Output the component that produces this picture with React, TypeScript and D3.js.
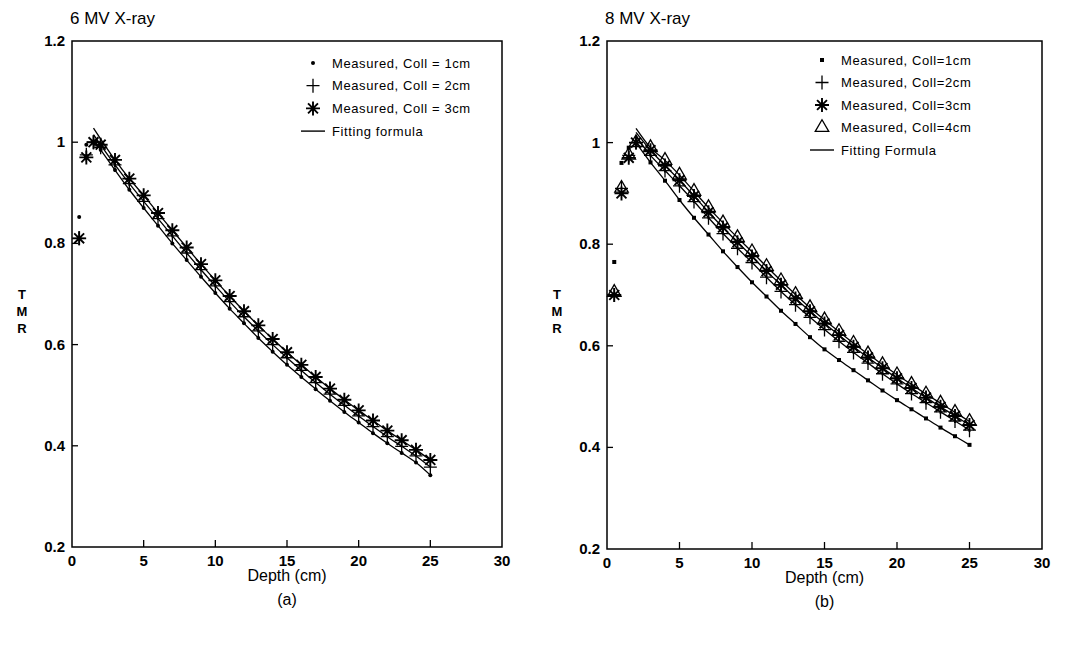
import React from 'react';
import * as d3 from 'd3';

// ---------- data ----------
const depths = [0.5, 1, 1.5, 2, 3, 4, 5, 6, 7, 8, 9, 10, 11, 12, 13, 14, 15, 16, 17, 18, 19, 20, 21, 22, 23, 24, 25];
const fitDepths6 = [1.5, 3, 4, 5, 6, 7, 8, 9, 10, 11, 12, 13, 14, 15, 16, 17, 18, 19, 20, 21, 22, 23, 24, 25];
const fitDepths8 = [2, 3, 4, 5, 6, 7, 8, 9, 10, 11, 12, 13, 14, 15, 16, 17, 18, 19, 20, 21, 22, 23, 24, 25];

const xTicks = [0, 5, 10, 15, 20, 25, 30];
const xTickLabels = ['0', '5', '10', '15', '20', '25', '30'];
const yTicks = [0.2, 0.4, 0.6, 0.8, 1, 1.2];
const yTickLabels = ['0.2', '0.4', '0.6', '0.8', '1', '1.2'];

// 6 MV
const mv6_coll1 = [0.852, 0.995, 1.0, 0.985, 0.945, 0.906, 0.87, 0.835, 0.8, 0.767, 0.734, 0.702, 0.671, 0.642, 0.613, 0.586, 0.56, 0.536, 0.512, 0.489, 0.467, 0.446, 0.425, 0.405, 0.386, 0.367, 0.342];
const mv6_coll2 = [0.81, 0.975, 1.0, 0.99, 0.955, 0.918, 0.883, 0.849, 0.815, 0.781, 0.748, 0.716, 0.685, 0.655, 0.627, 0.6, 0.574, 0.549, 0.525, 0.502, 0.48, 0.459, 0.438, 0.418, 0.399, 0.38, 0.358];
const mv6_coll3 = [0.81, 0.97, 1.0, 0.995, 0.965, 0.928, 0.895, 0.86, 0.826, 0.792, 0.759, 0.727, 0.696, 0.666, 0.638, 0.611, 0.585, 0.56, 0.536, 0.513, 0.491, 0.47, 0.45, 0.43, 0.411, 0.392, 0.372];
const mv6_fitStart = [1.005, 1.015, 1.028];

// 8 MV
const mv8_coll1 = [0.765, 0.96, 0.99, 1.0, 0.961, 0.925, 0.887, 0.852, 0.819, 0.786, 0.755, 0.725, 0.697, 0.669, 0.643, 0.617, 0.593, 0.572, 0.552, 0.532, 0.512, 0.493, 0.475, 0.457, 0.439, 0.422, 0.405];
const mv8_coll2 = [0.7, 0.91, 0.975, 1.0, 0.975, 0.945, 0.915, 0.884, 0.852, 0.821, 0.792, 0.764, 0.735, 0.707, 0.681, 0.656, 0.632, 0.609, 0.587, 0.566, 0.545, 0.525, 0.506, 0.488, 0.47, 0.452, 0.434];
const mv8_coll3 = [0.7, 0.9, 0.97, 1.0, 0.985, 0.955, 0.926, 0.895, 0.863, 0.833, 0.804, 0.776, 0.747, 0.72, 0.693, 0.668, 0.644, 0.621, 0.598, 0.577, 0.556, 0.536, 0.517, 0.498, 0.48, 0.462, 0.444];
const mv8_coll4 = [0.705, 0.91, 0.975, 1.0, 0.99, 0.965, 0.936, 0.904, 0.872, 0.842, 0.813, 0.785, 0.756, 0.728, 0.701, 0.675, 0.651, 0.628, 0.605, 0.584, 0.563, 0.543, 0.524, 0.505, 0.487, 0.469, 0.451];
const mv8_fitStart = [1.0, 1.012, 1.02, 1.028];

const legendA = ['Measured, Coll = 1cm', 'Measured, Coll = 2cm', 'Measured, Coll = 3cm', 'Fitting formula'];
const legendB = ['Measured, Coll=1cm', 'Measured, Coll=2cm', 'Measured, Coll=3cm', 'Measured, Coll=4cm', 'Fitting Formula'];

const FONT = "'Liberation Sans', Arial, Helvetica, sans-serif";

type MarkerType = 'dot' | 'square' | 'plus' | 'star' | 'triangle' | 'line';

function Marker({ type, x, y }: { type: MarkerType; x: number; y: number }) {
  if (type === 'dot') return <circle cx={x} cy={y} r={2} fill="#000" />;
  if (type === 'square') return <rect x={x - 2} y={y - 2} width={4} height={4} fill="#000" />;
  if (type === 'plus')
    return <path d={`M${x - 6.5},${y}H${x + 6.5}M${x},${y - 7}V${y + 7}`} stroke="#000" strokeWidth={1.3} fill="none" />;
  if (type === 'star') {
    const r = 7;
    const parts: string[] = [];
    for (let k = 0; k < 4; k++) {
      const a = (k * Math.PI) / 4;
      parts.push(`M${x - r * Math.cos(a)},${y - r * Math.sin(a)}L${x + r * Math.cos(a)},${y + r * Math.sin(a)}`);
    }
    return <path d={parts.join('')} stroke="#000" strokeWidth={1.9} fill="none" />;
  }
  if (type === 'triangle') {
    const s = 13.5;
    const h = (s * Math.sqrt(3)) / 2;
    return (
      <path
        d={`M${x},${y - (2 * h) / 3}L${x + s / 2},${y + h / 3}L${x - s / 2},${y + h / 3}Z`}
        stroke="#000"
        strokeWidth={1.3}
        fill="none"
      />
    );
  }
  return <line x1={x - 12} x2={x + 12} y1={y} y2={y} stroke="#000" strokeWidth={1.4} />;
}

interface Series {
  type: MarkerType;
  values: number[];
}

interface PanelProps {
  x0: number;
  x1: number;
  yTop: number;
  yBot: number;
  title: string;
  caption: string;
  series: Series[];
  fitDepths: number[];
  fitStart: number[];
  legend: string[];
  legendTypes: MarkerType[];
  legendX: number;
  legendY: number;
  legendDy: number;
}

function Panel(p: PanelProps) {
  const x = d3.scaleLinear().domain([0, 30]).range([p.x0, p.x1]);
  const y = d3.scaleLinear().domain([0.2, 1.2]).range([p.yBot, p.yTop]);
  const line = d3
    .line<[number, number]>()
    .x((d) => x(d[0]))
    .y((d) => y(d[1]))
    .curve(d3.curveMonotoneX);
  const cx = (p.x0 + p.x1) / 2;
  return (
    <g>
      <text x={p.x0 - 2} y={24} fontFamily={FONT} fontSize={17}>
        {p.title}
      </text>
      <rect x={p.x0} y={p.yTop} width={p.x1 - p.x0} height={p.yBot - p.yTop} fill="none" stroke="#000" strokeWidth={1.5} />
      {yTicks.map((t, i) => (
        <g key={'y' + i}>
          {i > 0 && i < yTicks.length - 1 && (
            <line x1={p.x0} x2={p.x0 + 6} y1={y(t)} y2={y(t)} stroke="#000" strokeWidth={1.3} />
          )}
          <text
            x={p.x0 - 7}
            y={y(t) + 5}
            textAnchor="end"
            fontFamily={FONT}
            fontSize={15}
            fontWeight="bold"
          >
            {yTickLabels[i]}
          </text>
        </g>
      ))}
      {xTicks.map((t, i) => (
        <g key={'x' + i}>
          {i > 0 && i < xTicks.length - 1 && (
            <line x1={x(t)} x2={x(t)} y1={p.yBot} y2={p.yBot - 7} stroke="#000" strokeWidth={1.3} />
          )}
          <text x={x(t)} y={p.yBot + 19} textAnchor="middle" fontFamily={FONT} fontSize={15} fontWeight="bold">
            {xTickLabels[i]}
          </text>
        </g>
      ))}
      {['T', 'M', 'R'].map((c, i) => (
        <text
          key={c}
          x={p.x0 - 50}
          y={299 + i * 17}
          textAnchor="middle"
          fontFamily={FONT}
          fontSize={13}
          fontWeight="bold"
        >
          {c}
        </text>
      ))}
      <text x={cx} y={p.yBot + 34} textAnchor="middle" fontFamily={FONT} fontSize={16}>
        Depth (cm)
      </text>
      <text x={cx} y={p.yBot + 58} textAnchor="middle" fontFamily={FONT} fontSize={16}>
        {p.caption}
      </text>
      {p.series.map((s, si) => {
        const pts: [number, number][] = p.fitDepths.map((d, k) => [
          d,
          k === 0 ? p.fitStart[si] : s.values[depths.indexOf(d)],
        ]);
        return <path key={'f' + si} d={line(pts) || ''} fill="none" stroke="#000" strokeWidth={1.3} />;
      })}
      {p.series.map((s, si) =>
        s.values.map((v, k) => <Marker key={si + '-' + k} type={s.type} x={x(depths[k])} y={y(v)} />)
      )}
      {p.legend.map((lab, i) => (
        <g key={'l' + i}>
          <Marker type={p.legendTypes[i]} x={p.legendX} y={p.legendY + i * p.legendDy} />
          <text
            x={p.legendX + 19}
            y={p.legendY + i * p.legendDy + 4.5}
            fontFamily={FONT}
            fontSize={13}
            letterSpacing={0.6}
          >
            {lab}
          </text>
        </g>
      ))}
    </g>
  );
}

export default function App() {
  return (
    <svg
      width={1076}
      height={646}
      style={{ position: 'absolute', left: 0, top: 0, background: '#fff' }}
    >
      <rect x={0} y={0} width={1076} height={646} fill="#fff" />
      <Panel
        x0={72}
        x1={502}
        yTop={41}
        yBot={547}
        title="6 MV X-ray"
        caption="(a)"
        series={[
          { type: 'dot', values: mv6_coll1 },
          { type: 'plus', values: mv6_coll2 },
          { type: 'star', values: mv6_coll3 },
        ]}
        fitDepths={fitDepths6}
        fitStart={mv6_fitStart}
        legend={legendA}
        legendTypes={['dot', 'plus', 'star', 'line']}
        legendX={313}
        legendY={63}
        legendDy={22.7}
      />
      <Panel
        x0={607}
        x1={1042}
        yTop={41}
        yBot={549}
        title="8 MV X-ray"
        caption="(b)"
        series={[
          { type: 'square', values: mv8_coll1 },
          { type: 'plus', values: mv8_coll2 },
          { type: 'star', values: mv8_coll3 },
          { type: 'triangle', values: mv8_coll4 },
        ]}
        fitDepths={fitDepths8}
        fitStart={mv8_fitStart}
        legend={legendB}
        legendTypes={['square', 'plus', 'star', 'triangle', 'line']}
        legendX={822}
        legendY={60}
        legendDy={22.5}
      />
    </svg>
  );
}
